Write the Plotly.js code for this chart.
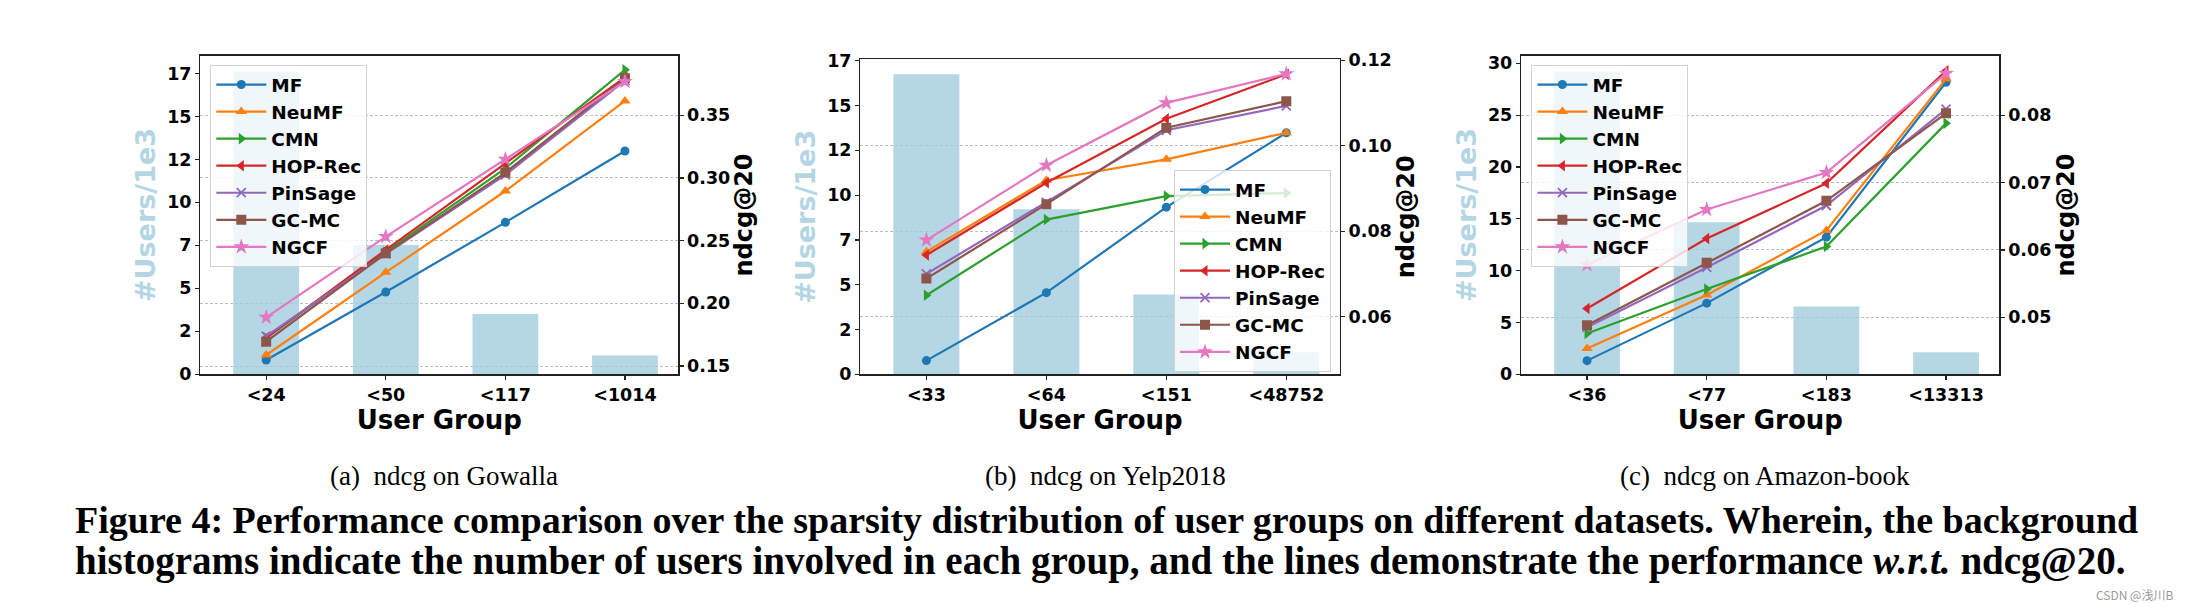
<!DOCTYPE html>
<html>
<head>
<meta charset="utf-8">
<script src="https://cdn.plot.ly/plotly-3.0.1.min.js"></script>
<style>html,body{margin:0;padding:0;background:#fff;}#chart{width:2190px;height:604px;}</style>
</head>
<body>
<div id="chart"></div>
<script>
// ---------- data ----------
const models = ['MF', 'NeuMF', 'CMN', 'HOP-Rec', 'PinSage', 'GC-MC', 'NGCF'];

const groupsGowalla = ['<24', '<50', '<117', '<1014'];
const groupsYelp = ['<33', '<64', '<151', '<48752'];
const groupsAmazon = ['<36', '<77', '<183', '<13313'];

// number of users per group (x 1e3)
const usersGowalla = [17.6, 7.52, 3.51, 1.10];
const usersYelp = [16.74, 9.21, 4.46, 1.23];
const usersAmazon = [29.2, 14.66, 6.53, 2.12];

// ndcg@20, one row per model (same order as `models`)
const ndcgGowalla = [
  [0.1548, 0.2090, 0.2646, 0.3215],
  [0.1588, 0.2247, 0.2896, 0.3614],
  [0.1725, 0.2410, 0.3077, 0.3862],
  [0.1725, 0.2426, 0.3117, 0.3803],
  [0.1739, 0.2395, 0.3024, 0.3777],
  [0.1694, 0.2399, 0.3043, 0.3795],
  [0.1888, 0.2532, 0.3149, 0.3769]
];
const ndcgYelp = [
  [0.0497, 0.0656, 0.0856, 0.1030],
  [0.0752, 0.0919, 0.0968, 0.1030],
  [0.0650, 0.0827, 0.0882, 0.0889],
  [0.0744, 0.0913, 0.1063, 0.1167],
  [0.0700, 0.0867, 0.1036, 0.1093],
  [0.0689, 0.0863, 0.1042, 0.1104],
  [0.0779, 0.0954, 0.1100, 0.1168]
];
const ndcgAmazon = [
  [0.04356, 0.0521, 0.0619, 0.0849],
  [0.04535, 0.0533, 0.0629, 0.0854],
  [0.0476, 0.0542, 0.0605, 0.0788],
  [0.0513, 0.0617, 0.0699, 0.0866],
  [0.0485, 0.0574, 0.0666, 0.0809],
  [0.0488, 0.0581, 0.0673, 0.0803],
  [0.0578, 0.0660, 0.0715, 0.0862]
];

const leftTicks1 = [0, 2.5, 5, 7.5, 10, 12.5, 15, 17.5];
const leftTickText1 = ['0', '2', '5', '7', '10', '12', '15', '17'];
const leftTicks3 = [0, 5, 10, 15, 20, 25, 30];
const rightTicksGowalla = [0.15, 0.20, 0.25, 0.30, 0.35];
const rightTextGowalla = ['0.15', '0.20', '0.25', '0.30', '0.35'];
const rightTicksYelp = [0.06, 0.08, 0.10, 0.12];
const rightTextYelp = ['0.06', '0.08', '0.10', '0.12'];
const rightTicksAmazon = [0.05, 0.06, 0.07, 0.08];
const rightTextAmazon = ['0.05', '0.06', '0.07', '0.08'];

// ---------- styles ----------
const colors = ['#1f77b4', '#ff7f0e', '#2ca02c', '#d62728', '#9467bd', '#8c564b', '#e377c2'];
const symbols = ['circle', 'triangle-up', 'triangle-right', 'triangle-left', 'x-thin-open', 'square', 'star'];
const msizes = [9, 10, 10, 10, 9, 10, 12];
const FONT = 'DejaVu Sans';
const BAR = 'rgba(160,202,221,0.78)';
const AXC = '#222';

const traces = [];
function addPanel(groups, users, ndcg, xa, yl, yr, legendName) {
  traces.push({
    type: 'bar', x: groups, y: users, xaxis: xa, yaxis: yl, width: 0.55,
    marker: {color: BAR, line: {width: 0}}, showlegend: false, hoverinfo: 'skip'
  });
  models.forEach((m, i) => {
    traces.push({
      type: 'scatter', mode: 'lines+markers', name: m, x: groups, y: ndcg[i],
      xaxis: xa, yaxis: yr, legend: legendName,
      line: {color: colors[i], width: 2.2},
      marker: {symbol: symbols[i], size: msizes[i], color: colors[i],
               line: {width: symbols[i] === 'x-thin-open' ? 1.8 : 0, color: colors[i]}}
    });
  });
}
addPanel(groupsGowalla, usersGowalla, ndcgGowalla, 'x', 'y', 'y2', 'legend');
addPanel(groupsYelp, usersYelp, ndcgYelp, 'x2', 'y3', 'y4', 'legend2');
addPanel(groupsAmazon, usersAmazon, ndcgAmazon, 'x3', 'y5', 'y6', 'legend3');

const W = 2190, H = 604;
const px = v => v / W;
const py = v => (H - v) / H;

const tickFont = {family: FONT, size: 17.5, weight: 'bold', color: '#000'};
function xAxis(d0, d1, anchor) {
  return {
    domain: [px(d0), px(d1)], anchor: anchor, type: 'category', range: [-0.551, 3.446],
    showline: true, mirror: true, linecolor: AXC, linewidth: 1.3,
    ticks: 'outside', ticklen: 4, tickwidth: 1.2, tickcolor: AXC, tickfont: tickFont,
    showgrid: false, zeroline: false, fixedrange: true,
    title: {text: 'User Group', font: {family: FONT, size: 26, weight: 'bold', color: '#000'}, standoff: 6}
  };
}
function yLeft(top, range, tv, tt, anchor) {
  return {
    domain: [py(374.3), py(top)], anchor: anchor, range: range, tickvals: tv, ticktext: tt,
    showline: true, linecolor: AXC, linewidth: 1.3,
    ticks: 'outside', ticklen: 4, tickwidth: 1.2, tickcolor: AXC, tickfont: tickFont,
    showgrid: false, zeroline: false, fixedrange: true,
    title: {text: '#Users/1e3', font: {family: FONT, size: 27, weight: 'bold', color: '#b4d6e4'}, standoff: 3}
  };
}
function yRight(over, anchor, range, tv, tt) {
  return {
    overlaying: over, side: 'right', anchor: anchor, range: range, tickvals: tv, ticktext: tt,
    showline: true, linecolor: AXC, linewidth: 1.3,
    ticks: 'outside', ticklen: 4, tickwidth: 1.2, tickcolor: AXC, tickfont: tickFont,
    showgrid: true, gridcolor: '#bdbdbd', griddash: '3px,2px', gridwidth: 1,
    zeroline: false, fixedrange: true,
    title: {text: 'ndcg@20', font: {family: FONT, size: 24, weight: 'bold', color: '#000'}, standoff: 6}
  };
}
function legendAt(x, y) {
  return {
    x: px(x), y: py(y), xanchor: 'left', yanchor: 'top',
    bgcolor: 'rgba(255,255,255,0.8)', bordercolor: '#d2d2d2', borderwidth: 1,
    font: {family: FONT, size: 18.5, weight: 'bold', color: '#000'}, tracegroupgap: 0,
    itemwidth: 50
  };
}

const serif = 'Liberation Serif';
const layout = {
  width: W, height: H, margin: {l: 0, r: 0, t: 0, b: 0},
  paper_bgcolor: '#fff', plot_bgcolor: 'rgba(0,0,0,0)',
  font: {family: FONT, color: '#000'},
  showlegend: true, barmode: 'overlay',
  xaxis: xAxis(200.3, 678.3, 'y'),
  yaxis: yLeft(55.7, [0, 18.53], leftTicks1, leftTickText1, 'x'),
  yaxis2: yRight('y', 'x', [0.1434, 0.3975], rightTicksGowalla, rightTextGowalla),
  xaxis2: xAxis(860.3, 1339.8, 'y3'),
  yaxis3: yLeft(59.3, [0, 17.58], leftTicks1, leftTickText1, 'x2'),
  yaxis4: yRight('y3', 'x2', [0.0465, 0.1202], rightTicksYelp, rightTextYelp),
  xaxis3: xAxis(1521.1, 1999.4, 'y5'),
  yaxis5: yLeft(55.7, [0, 30.73], leftTicks3, leftTicks3.map(String), 'x3'),
  yaxis6: yRight('y5', 'x3', [0.04153, 0.08885], rightTicksAmazon, rightTextAmazon),
  legend: legendAt(210.3, 65),
  legend2: legendAt(1174, 170),
  legend3: legendAt(1531.4, 65),
  annotations: [
    {text: '(a)  ndcg on Gowalla', x: px(444), y: py(476), xanchor: 'center', yanchor: 'middle'},
    {text: '(b)  ndcg on Yelp2018', x: px(1105), y: py(476), xanchor: 'center', yanchor: 'middle'},
    {text: '(c)  ndcg on Amazon-book', x: px(1765), y: py(476), xanchor: 'center', yanchor: 'middle'}
  ].map(a => Object.assign(a, {xref: 'paper', yref: 'paper', showarrow: false,
        font: {family: serif, size: 27, color: '#000'}})).concat([
    {text: 'Figure 4: Performance comparison over the sparsity distribution of user groups on different datasets. Wherein, the background',
     x: px(72.6), y: py(520), xanchor: 'left', yanchor: 'middle',
     font: {family: serif, size: 38, weight: 'bold', color: '#000'}},
    {text: 'histograms indicate the number of users involved in each group, and the lines demonstrate the performance <i>w.r.t.</i> ndcg@20.',
     x: px(72.6), y: py(561), xanchor: 'left', yanchor: 'middle',
     font: {family: serif, size: 39, weight: 'bold', color: '#000'}}
  ].map(a => Object.assign(a, {xref: 'paper', yref: 'paper', showarrow: false}))).concat([
    {text: 'CSDN @浅川B', x: px(2094), y: py(594), xref: 'paper', yref: 'paper', xanchor: 'left', yanchor: 'middle',
     showarrow: false, font: {family: 'Noto Sans CJK SC', size: 12, color: '#9a9a9a'}}
  ])
};

Plotly.newPlot('chart', traces, layout, {displayModeBar: false, staticPlot: true});
</script>
</body>
</html>
